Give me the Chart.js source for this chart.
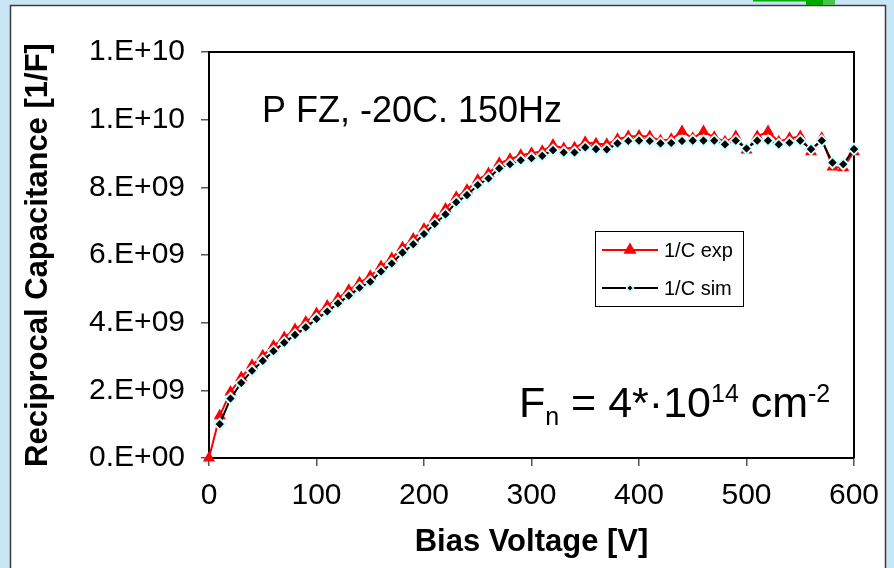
<!DOCTYPE html>
<html>
<head>
<meta charset="utf-8">
<script src="https://cdn.jsdelivr.net/npm/chart.js@4/dist/chart.umd.min.js"></script>
<style>
  html, body { margin: 0; padding: 0; background: #c8e6f6; }
  #wrap { width: 894px; height: 568px; position: relative; }
</style>
</head>
<body>
<div id="wrap"><canvas id="c" width="894" height="568"></canvas></div>
<script>
// ---- data ----
const voltages = [0,10,20,30,40,50,60,70,80,90,100,110,120,130,140,150,160,170,180,190,200,
  210,220,230,240,250,260,270,280,290,300,310,320,330,340,350,360,370,380,390,400,
  410,420,430,440,450,460,470,480,490,500,510,520,530,540,550,560,570,580,590,600];

const expValues = [0.00,1.25,1.95,2.38,2.74,3.02,3.31,3.56,3.80,4.02,4.27,4.49,4.72,4.96,5.18,5.37,
  5.66,5.90,6.22,6.47,6.77,7.07,7.36,7.71,7.92,8.22,8.41,8.71,8.83,8.95,9.01,9.07,9.25,9.15,9.17,
  9.33,9.29,9.27,9.42,9.50,9.52,9.50,9.38,9.42,9.65,9.45,9.65,9.48,9.35,9.50,9.10,9.50,9.65,9.35,
  9.45,9.50,9.05,9.45,8.60,8.58,9.05].map(v => v * 1e9);

const simValues = [null,1.00,1.76,2.22,2.58,2.87,3.16,3.41,3.64,3.86,4.11,4.33,4.57,4.80,5.03,5.21,
  5.51,5.75,6.07,6.32,6.62,6.92,7.20,7.56,7.77,8.07,8.26,8.56,8.68,8.80,8.86,8.93,9.10,9.03,9.03,
  9.18,9.13,9.12,9.30,9.37,9.38,9.37,9.30,9.31,9.37,9.38,9.38,9.38,9.27,9.38,9.15,9.38,9.38,9.27,
  9.32,9.38,9.13,9.38,8.73,8.68,9.13].map(v => v == null ? null : v * 1e9);

const seriesNames = ['1/C exp', '1/C sim'];
const yTickLabels = ['0.E+00','2.E+09','4.E+09','6.E+09','8.E+09','1.E+10','1.E+10'];
const xTickLabels = ['0','100','200','300','400','500','600'];
const annotationTitle = 'P FZ, -20C. 150Hz';
const fluence = ['F', 'n', ' = 4*\u00B710', '14', ' cm', '-2'];
const yAxisTitle = 'Reciprocal Capacitance [1/F]';
const xAxisTitle = 'Bias Voltage [V]';

const FONT = '"Liberation Sans", Arial, sans-serif';
const RED = '#ff0000';
const CYAN = '#ccffff';

const toPoints = (vals) => voltages.map((x, i) => ({ x, y: vals[i] }));

const decor = {
  id: 'decor',
  beforeDraw(chart) {
    const ctx = chart.ctx;
    ctx.save();
    ctx.fillStyle = '#c8e6f6';
    ctx.fillRect(0, 0, 894, 568);
    ctx.fillStyle = '#ffffff';
    ctx.fillRect(10, 5, 875, 570);
    ctx.strokeStyle = '#3c3c3c';
    ctx.lineWidth = 1.5;
    ctx.strokeRect(10.5, 5.5, 875, 580);
    // green tab at top
    ctx.fillStyle = '#00b000';
    ctx.fillRect(753, 0, 82, 1.5);
    ctx.fillStyle = '#00a800';
    ctx.fillRect(806, 0, 17, 5);
    ctx.fillStyle = '#4cc44c';
    ctx.fillRect(823, 0, 12, 5);
    ctx.restore();
  },
  beforeDatasetsDraw(chart) {
    const { ctx, chartArea: a } = chart;
    ctx.save();
    ctx.strokeStyle = '#000';
    ctx.lineWidth = 2;
    ctx.beginPath();
    ctx.moveTo(a.left, a.top);
    ctx.lineTo(a.right, a.top);
    ctx.lineTo(a.right, a.bottom);
    ctx.stroke();
    // annotation texts
    ctx.fillStyle = '#000';
    ctx.textBaseline = 'alphabetic';
    ctx.textAlign = 'left';
    ctx.font = '36px ' + FONT;
    ctx.fillText(annotationTitle, 262, 122);
    // fluence
    let x = 519;
    const base = 417;
    const big = '43px ' + FONT, small = '25px ' + FONT;
    const parts = [
      [fluence[0], big, 0], [fluence[1], small, 8], [fluence[2], big, 0],
      [fluence[3], small, -15], [fluence[4], big, 0], [fluence[5], small, -15]
    ];
    for (const [t, f, dy] of parts) {
      ctx.font = f;
      ctx.fillText(t, x, base + dy);
      x += ctx.measureText(t).width;
    }
    ctx.restore();
  },
  afterDraw(chart) {
    const ctx = chart.ctx;
    const ds = chart.data.datasets;
    ctx.save();
    // legend box
    ctx.fillStyle = '#fff';
    ctx.fillRect(595, 231, 148, 75);
    ctx.strokeStyle = '#000';
    ctx.lineWidth = 1;
    ctx.strokeRect(595.5, 231.5, 148, 75);
    const rows = [
      { d: ds[1], y: 250 },
      { d: ds[0], y: 288 }
    ];
    for (const r of rows) {
      ctx.strokeStyle = r.d.borderColor;
      ctx.lineWidth = 2;
      ctx.beginPath();
      ctx.moveTo(602, r.y);
      ctx.lineTo(658, r.y);
      ctx.stroke();
      ctx.fillStyle = r.d.pointBackgroundColor;
      if (r.d.pointStyle === 'triangle') {
        const rr = 7.5;
        ctx.beginPath();
        ctx.moveTo(630, r.y - rr);
        ctx.lineTo(630 + rr * 0.866, r.y + rr * 0.5);
        ctx.lineTo(630 - rr * 0.866, r.y + rr * 0.5);
        ctx.closePath();
        ctx.fill();
      } else {
        const rr = 3.5;
        ctx.beginPath();
        ctx.moveTo(630, r.y - rr);
        ctx.lineTo(630 + rr, r.y);
        ctx.lineTo(630, r.y + rr);
        ctx.lineTo(630 - rr, r.y);
        ctx.closePath();
        ctx.fill();
        ctx.strokeStyle = r.d.pointBorderColor;
        ctx.lineWidth = 1.5;
        ctx.stroke();
      }
      ctx.fillStyle = '#000';
      ctx.font = '20px ' + FONT;
      ctx.textBaseline = 'middle';
      ctx.textAlign = 'left';
      ctx.fillText(r.d.label, 664, r.y + 1);
    }
    ctx.restore();
  }
};

new Chart(document.getElementById('c'), {
  type: 'line',
  data: {
    datasets: [
      {
        label: seriesNames[1],
        data: toPoints(simValues),
        borderColor: '#000000',
        borderWidth: 2,
        pointStyle: 'rectRot',
        pointRadius: 5.5,
        pointBackgroundColor: '#000000',
        pointBorderColor: CYAN,
        pointBorderWidth: 2,
        tension: 0,
        clip: false,
        spanGaps: false
      },
      {
        label: seriesNames[0],
        data: toPoints(expValues),
        borderColor: RED,
        borderWidth: 2,
        pointStyle: 'triangle',
        pointRadius: 7,
        pointBackgroundColor: RED,
        pointBorderColor: RED,
        pointBorderWidth: 0,
        tension: 0,
        clip: false
      }
    ]
  },
  options: {
    responsive: false,
    animation: false,
    devicePixelRatio: 1,
    layout: { padding: { left: 0, top: 52, right: 40, bottom: 0 } },
    plugins: { legend: { display: false }, tooltip: { enabled: false } },
    scales: {
      x: {
        type: 'linear',
        min: 0, max: 600,
        afterFit: (s) => { s.height = 110; },
        ticks: {
          stepSize: 100,
          color: '#000',
          font: { family: FONT, size: 30 },
          padding: 12,
          maxRotation: 0,
          callback: (v, i) => xTickLabels[i]
        },
        grid: { display: true, drawOnChartArea: false, drawTicks: true, tickLength: 8, color: '#555', lineWidth: 1.5 },
        border: { display: true, color: '#000', width: 2 },
        title: {
          display: true, text: xAxisTitle, color: '#000',
          font: { family: FONT, size: 31, weight: 'bold' },
          padding: { top: 0, bottom: 7 }
        }
      },
      y: {
        type: 'linear',
        min: 0, max: 1.2e10,
        afterFit: (s) => { s.width = 209; },
        ticks: {
          stepSize: 2e9,
          color: '#000',
          font: { family: FONT, size: 30 },
          padding: 16,
          callback: (v, i) => yTickLabels[i]
        },
        grid: { display: true, drawOnChartArea: false, drawTicks: true, tickLength: 8, color: '#555', lineWidth: 1.5 },
        border: { display: true, color: '#000', width: 2 },
        title: {
          display: true, text: yAxisTitle, color: '#000',
          font: { family: FONT, size: 31, weight: 'bold' },
          padding: { top: 20, bottom: 0 }
        }
      }
    }
  },
  plugins: [decor]
});
</script>
</body>
</html>
